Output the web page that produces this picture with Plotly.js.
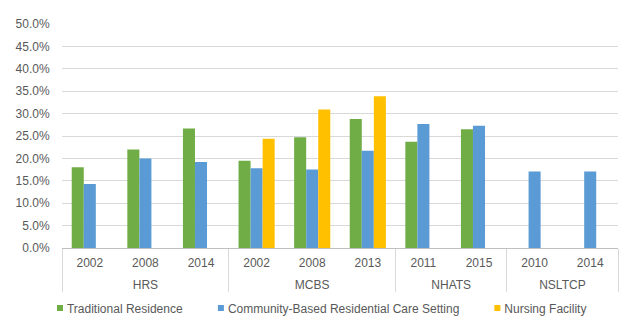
<!DOCTYPE html>
<html>
<head>
<meta charset="utf-8">
<script src="https://cdn.plot.ly/plotly-3.0.1.min.js"></script>
<style>
  html, body { margin: 0; padding: 0; background: #fff; }
  #chart { width: 636px; height: 334px; }
</style>
</head>
<body>
<div id="chart"></div>
<script>
// survey / year pairs on the x axis
const surveys = ['HRS', 'HRS', 'HRS', 'MCBS', 'MCBS', 'MCBS', 'NHATS', 'NHATS', 'NSLTCP', 'NSLTCP'];
const years = ['2002', '2008', '2014', '2002', '2008', '2013', '2011', '2015', '2010', '2014'];

// percent of residents
const traditional = [18.0, 22.0, 26.7, 19.5, 24.7, 28.8, 23.7, 26.5, null, null];
const community = [14.3, 20.0, 19.2, 17.8, 17.5, 21.7, 27.7, 27.3, 17.1, 17.1];
const nursing = [null, null, null, 24.4, 30.9, 33.9, null, null, null, null];

const names = ['Traditional Residence', 'Community-Based Residential Care Setting', 'Nursing Facility'];
const colors = ['#70ad47', '#5b9bd5', '#ffc000'];

// plotly orders multicategory labels by first appearance of each level,
// so feed the rows in an order that keeps NSLTCP 2010 before 2014
const feedOrder = [0, 1, 3, 4, 5, 6, 8, 2, 7, 9];

// a small blank second line pushes the survey row down a bit
const yearLabel = y => y + '<br><sup>&nbsp;</sup>';

const series = [traditional, community, nursing];
const data = series.map((vals, i) => ({
  type: 'bar',
  x: [
    feedOrder.map(k => surveys[k]),
    feedOrder.map(k => yearLabel(years[k]))
  ],
  y: feedOrder.map(k => vals[k]),
  name: names[i],
  marker: { color: colors[i] },
  hoverinfo: 'none'
}));

const layout = {
  width: 636,
  height: 334,
  margin: { l: 62, r: 18, t: 24, b: 86, autoexpand: false },
  paper_bgcolor: '#fff',
  plot_bgcolor: '#fff',
  font: { family: 'Liberation Sans, Arial, sans-serif', size: 12, color: '#595959' },
  barmode: 'group',
  bargap: 0.35,
  bargroupgap: 0,
  showlegend: true,
  legend: {
    orientation: 'h',
    x: -0.063,
    xanchor: 'left',
    y: -0.268,
    yanchor: 'middle',
    font: { size: 12, color: '#595959' },
    itemwidth: 30,
    traceorder: 'normal'
  },
  xaxis: {
    type: 'multicategory',
    showline: true,
    linecolor: '#bfbfbf',
    linewidth: 1,
    showdividers: true,
    dividercolor: '#d9d9d9',
    dividerwidth: 1,
    ticks: '',
    ticklabelstandoff: 4,
    showgrid: false,
    tickfont: { size: 12, color: '#595959' }
  },
  yaxis: {
    range: [0, 50],
    dtick: 5,
    tickformat: '.1f',
    ticksuffix: '%',
    showgrid: true,
    gridcolor: '#d9d9d9',
    gridwidth: 1,
    zeroline: false,
    showline: false,
    // invisible ticks just to leave a gap before the labels
    ticks: 'outside',
    ticklen: 9,
    tickcolor: 'rgba(0,0,0,0)',
    tickfont: { size: 12, color: '#595959' }
  }
};

Plotly.newPlot('chart', data, layout, { displayModeBar: false, staticPlot: true }).then(gd => {
  // small square legend keys sitting right before the text, like the original
  gd.querySelectorAll('.legend .legendpoints path').forEach(p => {
    p.setAttribute('d', 'M10,-3h6v6h-6z');
  });
});
</script>
</body>
</html>
